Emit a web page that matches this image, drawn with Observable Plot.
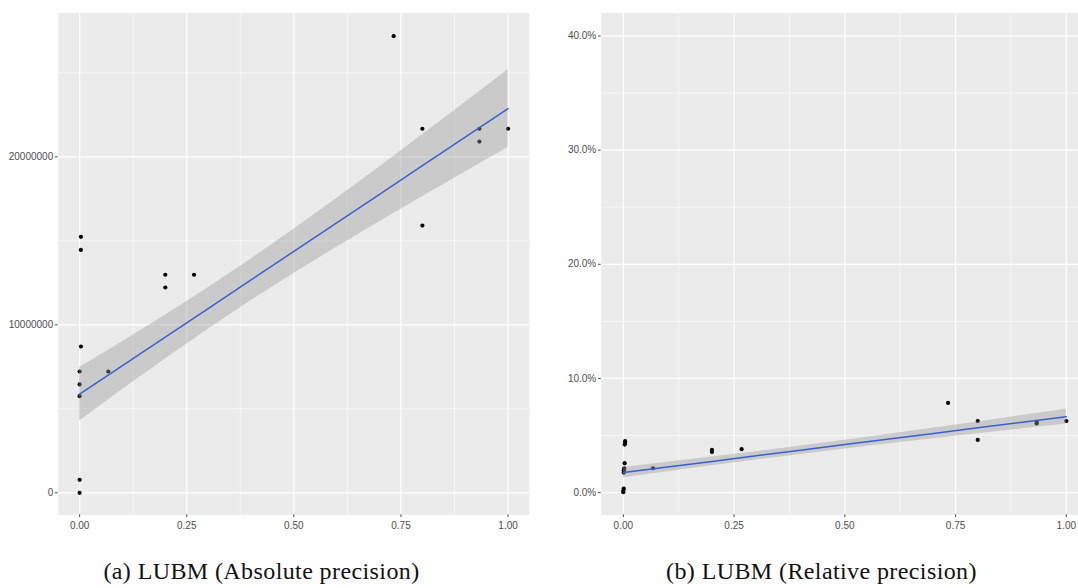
<!DOCTYPE html>
<html>
<head>
<meta charset="utf-8">
<script src="https://cdn.jsdelivr.net/npm/d3@7"></script>
<script src="https://cdn.jsdelivr.net/npm/@observablehq/plot@0.6"></script>
<style>
  html, body { margin: 0; padding: 0; background: #fff; }
  #wrap { position: relative; width: 1078px; height: 588px; overflow: hidden; background: #fff; }
  .panel { position: absolute; top: 0; }
  .panel svg { max-width: none !important; }
  .cap { position: absolute; top: 560px; width: 540px; text-align: center;
         font-family: "Liberation Serif", "DejaVu Serif", serif; font-size: 24px; letter-spacing: 0.4px; line-height: 22px; color: #111; white-space: nowrap; }
</style>
</head>
<body>
<div id="wrap">
  <div id="a" class="panel" style="left:0; width:540px"></div>
  <div id="b" class="panel" style="left:540px; width:548px"></div>
  <div class="cap" id="capA" style="left:-8.5px">(a) LUBM (Absolute precision)</div>
  <div class="cap" id="capB" style="left:551.5px">(b) LUBM (Relative precision)</div>
</div>
<script>
// ---- data ----
const xMajorTicks = [0, 0.25, 0.5, 0.75, 1];
const xMinorTicks = [0.125, 0.375, 0.625, 0.875];

// (a) absolute precision
const absX = [0.003, 0.003, 0.003, 0, 0, 0, 0, 0, 0.067, 0.2, 0.2, 0.267, 0.733, 0.8, 0.8, 0.933, 0.933, 1];
const absY = [15240000, 14460000, 8710000, 7220000, 6450000, 5750000, 770000, 0, 7220000, 12980000, 12220000, 12980000, 27180000, 21670000, 15910000, 21670000, 20910000, 21670000];
const absYTicks = [0, 10000000, 20000000];
const absYMinor = [5000000, 15000000, 25000000];

// (b) relative precision (percent)
const relX = [0.004, 0.004, 0.003, 0.003, 0.002, 0.001, 0.001, 0.001, 0, 0, 0.067, 0.2, 0.2, 0.267, 0.733, 0.8, 0.8, 0.933, 0.933, 1];
const relY = [4.5, 4.35, 4.2, 2.57, 2.13, 1.95, 1.75, 0.35, 0.15, 0.03, 2.13, 3.74, 3.56, 3.8, 7.85, 6.27, 4.61, 6.2, 6.05, 6.27];
const relYTicks = [0, 10, 20, 30, 40];
const relYMinor = [5, 15, 25, 35];

// fitted lines and 95% bands
const bandX  = [0, 0.1, 0.2, 0.3, 0.4, 0.5, 0.6, 0.7, 0.8, 0.9, 1];
const absFit = [5870000, 7570000, 9270000, 10970000, 12670000, 14370000, 16070000, 17770000, 19470000, 21170000, 22870000];
const absLo  = [4280000, 6150000, 7970000, 9740000, 11430000, 13050000, 14620000, 16140000, 17630000, 19100000, 20550000];
const absHi  = [7460000, 8990000, 10570000, 12200000, 13910000, 15690000, 17520000, 19400000, 21310000, 23240000, 25190000];
const relFit = [1.75, 2.24, 2.73, 3.22, 3.71, 4.2, 4.69, 5.18, 5.67, 6.16, 6.65];
const relLo  = [1.3, 1.83, 2.35, 2.86, 3.34, 3.81, 4.27, 4.71, 5.15, 5.58, 6.0];
const relHi  = [2.2, 2.65, 3.11, 3.58, 4.08, 4.59, 5.11, 5.65, 6.19, 6.75, 7.3];

function panel(o) {
  const pts = o.X.map((x, i) => ({x, y: o.Y[i]}));
  const band = bandX.map((x, i) => ({x, fit: o.fit[i], lo: o.lo[i], hi: o.hi[i]}));
  return Plot.plot({
    width: o.width, height: 535,
    marginLeft: o.mLeft, marginRight: o.mRight, marginTop: 12.7, marginBottom: 20.7,
    x: {domain: [-0.05, 1.05], label: null},
    y: {domain: o.yDomain, label: null},
    style: {fontFamily: "'Liberation Sans', Arial, sans-serif", color: "#4D4D4D", background: "transparent", overflow: "visible"},
    marks: [
      Plot.frame({fill: "#EBEBEB", stroke: "none"}),
      Plot.gridX({ticks: xMinorTicks, stroke: "white", strokeOpacity: 1, strokeWidth: 0.6}),
      Plot.gridY({ticks: o.yMinor, stroke: "white", strokeOpacity: 1, strokeWidth: 0.6}),
      Plot.gridX({ticks: xMajorTicks, stroke: "white", strokeOpacity: 1, strokeWidth: 1.2}),
      Plot.gridY({ticks: o.yTicks, stroke: "white", strokeOpacity: 1, strokeWidth: 1.2}),
      Plot.dot(pts, {x: "x", y: "y", r: 2.1, fill: "black", stroke: "none"}),
      Plot.areaY(band, {x: "x", y1: "lo", y2: "hi", fill: "#999999", fillOpacity: 0.4}),
      Plot.line(band, {x: "x", y: "fit", stroke: "#3A5FD0", strokeWidth: 1.5}),
      Plot.axisX({ticks: xMajorTicks, tickFormat: d3.format(".2f"), tickSize: 2.75, tickPadding: 4, fontSize: 10, label: null}),
      Plot.axisY({ticks: o.yTicks, tickFormat: o.yFmt, tickSize: 2.75, tickPadding: 2.2, fontSize: 10, label: null})
    ]
  });
}

document.getElementById("a").append(panel({
  X: absX, Y: absY, width: 540, mLeft: 57.7, mRight: 11,
  yDomain: [-1310000, 28550000], yTicks: absYTicks, yMinor: absYMinor, yFmt: d3.format("d"),
  fit: absFit, lo: absLo, hi: absHi
}));

document.getElementById("b").append(panel({
  X: relX, Y: relY, width: 548, mLeft: 60.7, mRight: 0,
  yDomain: [-1.95, 42.0], yTicks: relYTicks, yMinor: relYMinor, yFmt: d => d.toFixed(1) + "%",
  fit: relFit, lo: relLo, hi: relHi
}));
</script>
</body>
</html>
